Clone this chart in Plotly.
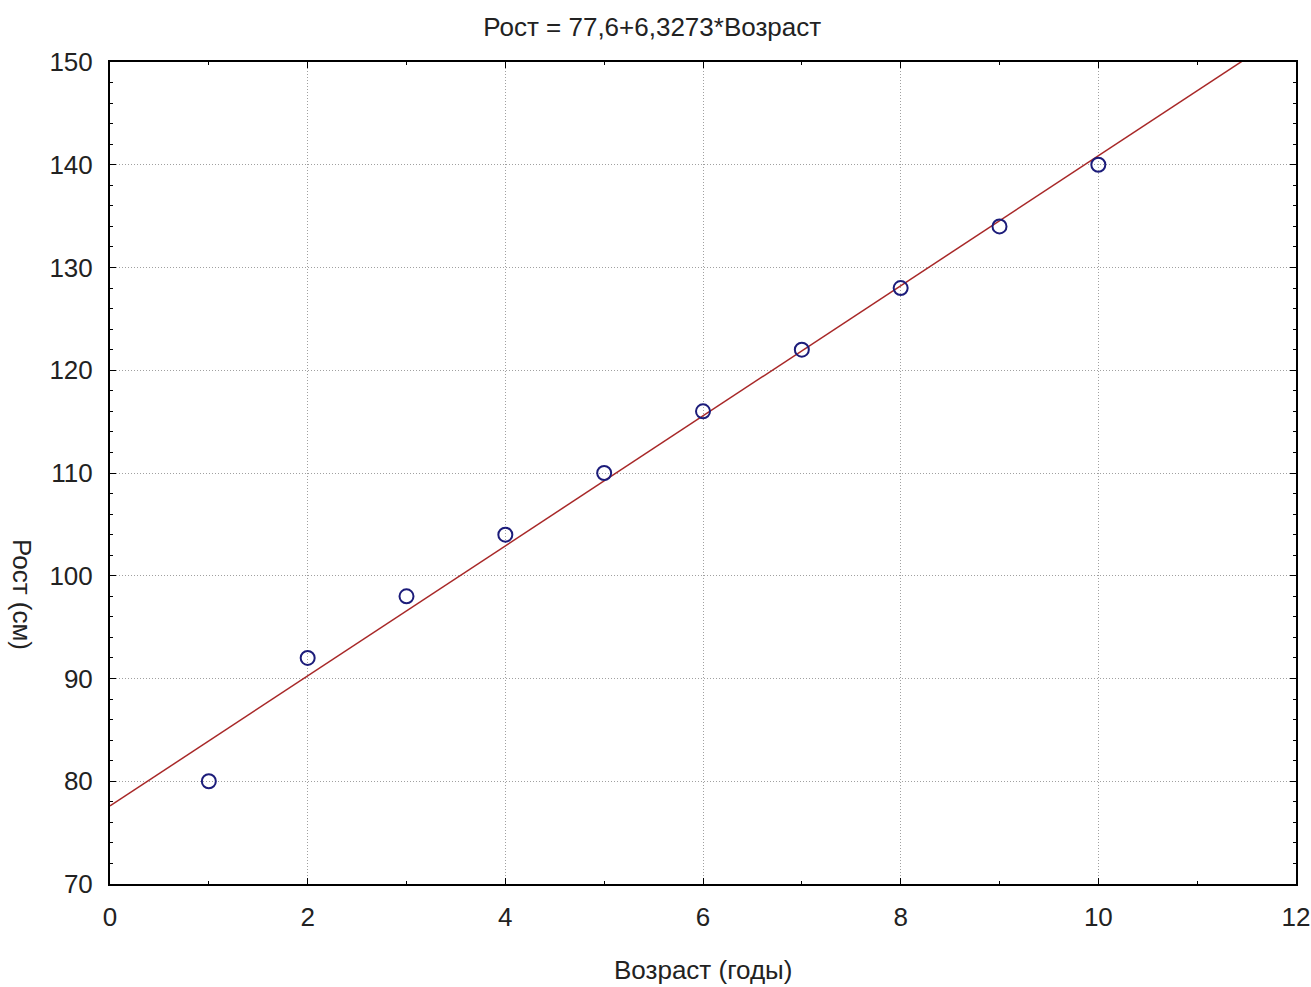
import numpy as np
import plotly.graph_objects as go

age = [1, 2, 3, 4, 5, 6, 7, 8, 9, 10]
height = [80, 92, 98, 104, 110, 116, 122, 128, 134, 140]
x_ticks = [0, 2, 4, 6, 8, 10, 12]
y_ticks = [70, 80, 90, 100, 110, 120, 130, 140, 150]
title_text = "Рост = 77,6+6,3273*Возраст"
x_title = "Возраст (годы)"
y_title = "Рост (см)"

slope, intercept = np.polyfit(age, height, 1)
line_x = np.array([0, 12])
line_y = intercept + slope * line_x

fig = go.Figure()
fig.add_trace(go.Scatter(x=line_x, y=line_y, mode="lines",
                         line=dict(color="#a82828", width=1.5), showlegend=False))
fig.add_trace(go.Scatter(x=age, y=height, mode="markers",
                         marker=dict(symbol="circle-open", size=14, color="#1c1c7a",
                                     line=dict(width=2, color="#1c1c7a")),
                         showlegend=False))

font_fam = "Liberation Sans, Arial, sans-serif"
fsize = 26
axis_common = dict(showline=True, linecolor="black", linewidth=2, mirror="allticks",
                   ticks="inside", ticklen=6, tickcolor="black", tickwidth=1,
                   showgrid=True, gridcolor="#a0a0a0", griddash="1px,2px", gridwidth=1,
                   zeroline=False, ticklabeloverflow="allow", automargin=False,
                   tickfont=dict(size=fsize, color="#222", family=font_fam))

fig.update_xaxes(range=[0, 12], tickvals=x_ticks, ticklabelstandoff=9,
                 minor=dict(dtick=1, ticks="inside", ticklen=3, tickcolor="black", showgrid=False),
                 **axis_common)
fig.update_yaxes(range=[70, 150], tickvals=y_ticks, ticklabelstandoff=10,
                 minor=dict(dtick=2, ticks="inside", ticklen=3, tickcolor="black", showgrid=False),
                 **axis_common)

fig.add_annotation(text=y_title, xref="paper", yref="paper", x=-0.0742, y=0.3516,
                   xanchor="center", yanchor="middle",
                   textangle=90, showarrow=False,
                   font=dict(size=fsize, color="#222", family=font_fam))
fig.add_annotation(text=x_title, xref="paper", yref="paper", x=0.5, y=-0.1046,
                   xanchor="center", yanchor="middle", showarrow=False,
                   font=dict(size=fsize, color="#222", family=font_fam))

fig.update_layout(
    width=1311, height=987,
    margin=dict(l=110, r=15, t=62, b=103),
    paper_bgcolor="white", plot_bgcolor="white",
    title=dict(text=title_text, x=0.4975, xref="container", y=1 - 27 / 987, yref="container",
               xanchor="center", yanchor="middle",
               font=dict(size=fsize, color="#222", family=font_fam)),
)

fig.write_html("out.html")
